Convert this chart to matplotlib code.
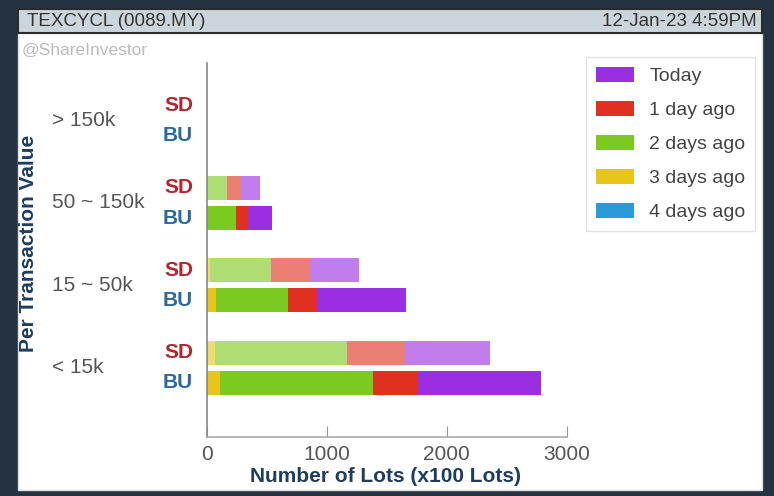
import matplotlib
matplotlib.use("Agg")
import matplotlib.pyplot as plt
from matplotlib.patches import Rectangle
from matplotlib.transforms import blended_transform_factory
import numpy as np

plt.rcParams['font.family'] = ['Liberation Sans', 'DejaVu Sans']

# ---- data ----
categories = ["< 15k", "15 ~ 50k", "50 ~ 150k", "> 150k"]
series = ["4 days ago", "3 days ago", "2 days ago", "1 day ago", "Today"]
colors = ["#2a9ad8", "#e6c619", "#7cc91f", "#e0301f", "#9a2ee0"]

# BU (buy-up) segment values per category, stacked left->right
bu_4d = [0, 0, 0, 0]
bu_3d = [114, 81, 0, 0]
bu_2d = [1272, 597, 242, 0]
bu_1d = [375, 241, 102, 0]
bu_today = [1019, 745, 200, 0]

# SD (sell-down) segment values per category
sd_4d = [0, 0, 0, 0]
sd_3d = [67, 25, 0, 0]
sd_2d = [1105, 508, 169, 0]
sd_1d = [478, 325, 120, 0]
sd_today = [708, 411, 153, 0]

xticks = [0, 1000, 2000, 3000]

BU = [bu_4d, bu_3d, bu_2d, bu_1d, bu_today]
SD = [sd_4d, sd_3d, sd_2d, sd_1d, sd_today]

W, H = 774, 496
fig = plt.figure(figsize=(W / 100, H / 100), dpi=100)
fig.patch.set_facecolor("#253341")

def fx(px):
    return px / W

def fy(py):
    return 1 - py / H

# white panel
fig.patches.append(Rectangle((fx(18), fy(490)), fx(762) - fx(18), fy(33) - fy(490),
                             transform=fig.transFigure, facecolor="white",
                             edgecolor="#dddddd", lw=1, zorder=-5))
# title bar
fig.patches.append(Rectangle((fx(18), fy(33)), fx(762) - fx(18), fy(9) - fy(33),
                             transform=fig.transFigure, facecolor="#cbd6dc",
                             edgecolor="#2b2b2b", lw=1.5, zorder=-5))
fig.text(fx(27), fy(21), "TEXCYCL (0089.MY)", fontsize=13.5, color="#333333",
         ha="left", va="center")
fig.text(fx(757), fy(21), "12-Jan-23 4:59PM", fontsize=13.5, color="#333333",
         ha="right", va="center")
fig.text(fx(22), fy(50), "@ShareInvestor", fontsize=12.5, color="#bbbbbb",
         ha="left", va="center")

ax = fig.add_axes([fx(206.5), fy(437), fx(567) - fx(206.5), fy(63) - fy(437)])
ax.set_facecolor("none")
ax.set_zorder(2)

y = np.arange(len(categories))
off = 0.183
h = 0.29
bars_for_legend = []
left_bu = np.zeros(len(categories))
left_sd = np.zeros(len(categories))
for i, name in enumerate(series):
    b = ax.barh(y - off, BU[i], height=h, left=left_bu, color=colors[i],
                edgecolor="none", label=name)
    ax.barh(y + off, SD[i], height=h, left=left_sd, color=colors[i],
            alpha=0.62, edgecolor="none")
    left_bu += np.array(BU[i])
    left_sd += np.array(SD[i])
    bars_for_legend.append(b)

ax.set_xlim(0, 3000)
ax.set_ylim(-0.842, 3.7)
ax.set_xticks(xticks)
ax.set_xticklabels([str(t) for t in xticks], fontsize=15, color="#555555")
ax.tick_params(axis="x", direction="in", length=8, color="#999999", pad=6)
ax.set_yticks([])
for s in ["top", "right"]:
    ax.spines[s].set_visible(False)
ax.spines["left"].set_color("#888888")
ax.spines["bottom"].set_color("#aaaaaa")
ax.spines["left"].set_linewidth(1.2)
ax.spines["bottom"].set_linewidth(1.2)

bt = blended_transform_factory(fig.transFigure, ax.transData)
for i, c in enumerate(categories):
    ax.text(fx(52), i, c, transform=bt, fontsize=15, color="#555555",
            ha="left", va="center", clip_on=False)
    ax.text(fx(193), i + off, "SD", transform=bt, fontsize=15, fontweight="bold",
            color="#b0282f", ha="right", va="center", clip_on=False)
    ax.text(fx(193), i - off, "BU", transform=bt, fontsize=15, fontweight="bold",
            color="#2d6a9c", ha="right", va="center", clip_on=False)

fig.text(fx(386), fy(477), "Number of Lots (x100 Lots)", fontsize=15,
         fontweight="bold", color="#1f3d5c", ha="center", va="center")
fig.text(fx(29), fy(243), "Per Transaction Value", fontsize=15, fontweight="bold",
         color="#1f3d5c", ha="center", va="center", rotation=90)

handles = bars_for_legend[::-1]
labels = series[::-1]
leg = fig.legend(handles, labels, loc="upper left",
                 bbox_to_anchor=(fx(586), fy(57)), bbox_transform=fig.transFigure,
                 fontsize=14, frameon=True, fancybox=False, borderaxespad=0,
                 handlelength=1.95, handleheight=0.85, handletextpad=0.8,
                 labelspacing=0.8, borderpad=0.5)
leg.get_frame().set_edgecolor("#dddddd")
leg.get_frame().set_linewidth(1)
for t in leg.get_texts():
    t.set_color("#444444")

fig.savefig("out.png", dpi=100, facecolor=fig.get_facecolor())
